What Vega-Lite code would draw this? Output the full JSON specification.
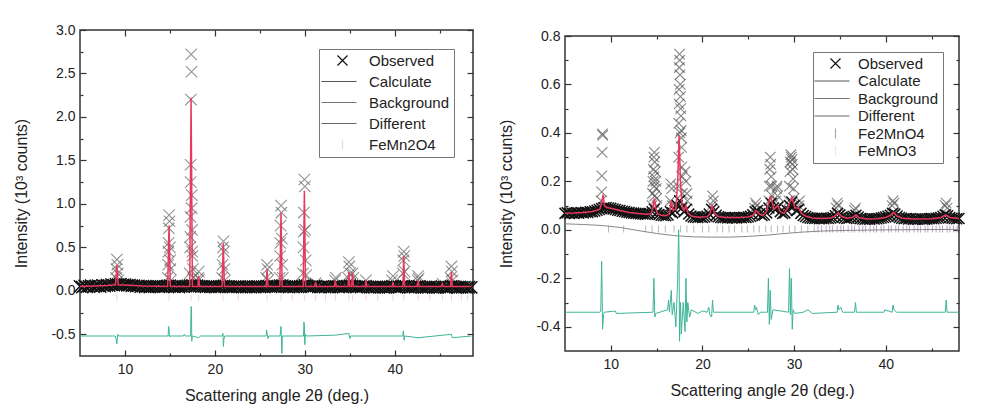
{
"$schema": "https://vega.github.io/schema/vega-lite/v6.json",
"background": "white",
"padding": {"left": 13, "top": 22, "right": 30, "bottom": 4},
"spacing": 16,
"config": {
  "font": "Liberation Sans",
  "view": {"stroke": "#333", "strokeWidth": 1.5},
  "axis": {"labelFont": "Liberation Sans", "titleFont": "Liberation Sans", "labelFontSize": 14, "titleFontSize": 16, "titleFontWeight": "normal", "labelColor": "#222", "titleColor": "#222", "tickColor": "#333", "tickWidth": 1.2, "domain": false, "grid": false, "labelOverlap": false},
  "legend": {"labelFont": "Liberation Sans"}
},
"resolve": {"scale": {"color": "independent", "shape": "independent"}},
"datasets": {
  "obsL": [
{"x":5,"y":0.05},{"x":5.25,"y":0.042},{"x":5.5,"y":0.056},{"x":5.75,"y":0.046},{"x":6,"y":0.052},{"x":6.25,"y":0.06},{"x":6.5,"y":0.047},{"x":6.75,"y":0.053},{"x":7,"y":0.058},{"x":7.25,"y":0.049},{"x":7.5,"y":0.062},{"x":7.75,"y":0.055},{"x":8,"y":0.064},{"x":8.25,"y":0.06},{"x":8.5,"y":0.07},{"x":8.75,"y":0.066},{"x":9,"y":0.074},{"x":9.25,"y":0.07},{"x":9.5,"y":0.076},{"x":9.75,"y":0.068},{"x":10,"y":0.071},{"x":10.25,"y":0.064},{"x":10.5,"y":0.066},{"x":10.75,"y":0.058},{"x":11,"y":0.06},{"x":11.25,"y":0.053},{"x":11.5,"y":0.057},{"x":11.75,"y":0.049},{"x":12,"y":0.054},{"x":12.25,"y":0.046},{"x":12.5,"y":0.052},{"x":12.75,"y":0.044},{"x":13,"y":0.05},{"x":13.25,"y":0.047},{"x":13.5,"y":0.053},{"x":13.75,"y":0.045},{"x":14,"y":0.051},{"x":14.25,"y":0.046},{"x":14.5,"y":0.052},{"x":14.75,"y":0.055},{"x":15,"y":0.058},{"x":15.25,"y":0.05},{"x":15.5,"y":0.046},{"x":15.75,"y":0.052},{"x":16,"y":0.044},{"x":16.25,"y":0.05},{"x":16.5,"y":0.047},{"x":16.75,"y":0.053},{"x":17,"y":0.056},{"x":17.25,"y":0.06},{"x":17.5,"y":0.062},{"x":17.75,"y":0.055},{"x":18,"y":0.058},{"x":18.25,"y":0.054},{"x":18.5,"y":0.048},{"x":18.75,"y":0.052},{"x":19,"y":0.045},{"x":19.25,"y":0.05},{"x":19.5,"y":0.046},{"x":19.75,"y":0.051},{"x":20,"y":0.044},{"x":20.25,"y":0.049},{"x":20.5,"y":0.046},{"x":20.75,"y":0.052},{"x":21,"y":0.056},{"x":21.25,"y":0.05},{"x":21.5,"y":0.045},{"x":21.75,"y":0.049},{"x":22,"y":0.043},{"x":22.25,"y":0.048},{"x":22.5,"y":0.045},{"x":22.75,"y":0.05},{"x":23,"y":0.042},{"x":23.25,"y":0.047},{"x":23.5,"y":0.044},{"x":23.75,"y":0.049},{"x":24,"y":0.043},{"x":24.25,"y":0.048},{"x":24.5,"y":0.044},{"x":24.75,"y":0.05},{"x":25,"y":0.045},{"x":25.25,"y":0.049},{"x":25.5,"y":0.046},{"x":25.75,"y":0.054},{"x":26,"y":0.05},{"x":26.25,"y":0.046},{"x":26.5,"y":0.05},{"x":26.75,"y":0.047},{"x":27,"y":0.052},{"x":27.25,"y":0.058},{"x":27.5,"y":0.06},{"x":27.75,"y":0.052},{"x":28,"y":0.047},{"x":28.25,"y":0.043},{"x":28.5,"y":0.048},{"x":28.75,"y":0.044},{"x":29,"y":0.049},{"x":29.25,"y":0.045},{"x":29.5,"y":0.05},{"x":29.75,"y":0.056},{"x":30,"y":0.062},{"x":30.25,"y":0.055},{"x":30.5,"y":0.049},{"x":30.75,"y":0.045},{"x":31,"y":0.05},{"x":31.25,"y":0.055},{"x":31.5,"y":0.046},{"x":31.75,"y":0.042},{"x":32,"y":0.047},{"x":32.25,"y":0.043},{"x":32.5,"y":0.048},{"x":32.75,"y":0.042},{"x":33,"y":0.046},{"x":33.25,"y":0.052},{"x":33.5,"y":0.05},{"x":33.75,"y":0.044},{"x":34,"y":0.048},{"x":34.25,"y":0.042},{"x":34.5,"y":0.047},{"x":34.75,"y":0.053},{"x":35,"y":0.058},{"x":35.25,"y":0.055},{"x":35.5,"y":0.05},{"x":35.75,"y":0.044},{"x":36,"y":0.048},{"x":36.25,"y":0.043},{"x":36.5,"y":0.047},{"x":36.75,"y":0.053},{"x":37,"y":0.046},{"x":37.25,"y":0.041},{"x":37.5,"y":0.046},{"x":37.75,"y":0.04},{"x":38,"y":0.045},{"x":38.25,"y":0.041},{"x":38.5,"y":0.046},{"x":38.75,"y":0.04},{"x":39,"y":0.044},{"x":39.25,"y":0.041},{"x":39.5,"y":0.046},{"x":39.75,"y":0.05},{"x":40,"y":0.045},{"x":40.25,"y":0.041},{"x":40.5,"y":0.046},{"x":40.75,"y":0.05},{"x":41,"y":0.056},{"x":41.25,"y":0.05},{"x":41.5,"y":0.044},{"x":41.75,"y":0.04},{"x":42,"y":0.045},{"x":42.25,"y":0.041},{"x":42.5,"y":0.048},{"x":42.75,"y":0.05},{"x":43,"y":0.043},{"x":43.25,"y":0.039},{"x":43.5,"y":0.044},{"x":43.75,"y":0.04},{"x":44,"y":0.045},{"x":44.25,"y":0.04},{"x":44.5,"y":0.044},{"x":44.75,"y":0.039},{"x":45,"y":0.043},{"x":45.25,"y":0.048},{"x":45.5,"y":0.042},{"x":45.75,"y":0.038},{"x":46,"y":0.043},{"x":46.25,"y":0.05},{"x":46.5,"y":0.052},{"x":46.75,"y":0.044},{"x":47,"y":0.04},{"x":47.25,"y":0.044},{"x":47.5,"y":0.039},{"x":47.75,"y":0.043},{"x":48,"y":0.038},{"x":48.25,"y":0.042},{"x":48.5,"y":0.04}
  ],
  "obsLp": [
{"x":9.0,"y":0.15},{"x":9.05,"y":0.25},{"x":9.1,"y":0.36},{"x":9.15,"y":0.3},{"x":9.2,"y":0.2},{"x":9.25,"y":0.12},
{"x":14.75,"y":0.15},{"x":14.8,"y":0.3},{"x":14.83,"y":0.45},{"x":14.85,"y":0.55},{"x":14.88,"y":0.72},{"x":14.9,"y":0.87},{"x":14.95,"y":0.8},{"x":15.0,"y":0.5},{"x":15.02,"y":0.35},{"x":15.05,"y":0.25},{"x":15.1,"y":0.12},
{"x":17.2,"y":0.2},{"x":17.25,"y":0.5},{"x":17.27,"y":0.62},{"x":17.28,"y":0.85},{"x":17.3,"y":1.45},{"x":17.31,"y":1.25},{"x":17.33,"y":2.2},{"x":17.36,"y":2.72},{"x":17.4,"y":2.52},{"x":17.42,"y":0.95},{"x":17.43,"y":1.1},{"x":17.46,"y":0.7},{"x":17.48,"y":0.45},{"x":17.5,"y":0.4},{"x":17.55,"y":0.25},{"x":17.6,"y":0.15},
{"x":18.15,"y":0.15},{"x":18.2,"y":0.22},{"x":18.25,"y":0.13},
{"x":20.8,"y":0.15},{"x":20.85,"y":0.3},{"x":20.9,"y":0.5},{"x":20.95,"y":0.57},{"x":21.0,"y":0.45},{"x":21.05,"y":0.25},{"x":21.1,"y":0.12},
{"x":25.7,"y":0.15},{"x":25.8,"y":0.3},{"x":25.85,"y":0.25},{"x":25.9,"y":0.12},
{"x":27.2,"y":0.15},{"x":27.25,"y":0.4},{"x":27.28,"y":0.55},{"x":27.3,"y":0.75},{"x":27.35,"y":0.98},{"x":27.4,"y":0.9},{"x":27.45,"y":0.6},{"x":27.5,"y":0.3},{"x":27.55,"y":0.15},
{"x":29.8,"y":0.2},{"x":29.85,"y":0.5},{"x":29.88,"y":0.68},{"x":29.9,"y":0.9},{"x":29.95,"y":1.28},{"x":30.0,"y":1.2},{"x":30.05,"y":0.7},{"x":30.1,"y":0.35},{"x":30.15,"y":0.18},
{"x":31.2,"y":0.09},{"x":33.35,"y":0.12},{"x":33.45,"y":0.15},
{"x":34.8,"y":0.15},{"x":34.9,"y":0.33},{"x":34.95,"y":0.28},{"x":35.05,"y":0.2},{"x":35.3,"y":0.2},{"x":35.4,"y":0.15},
{"x":36.8,"y":0.12},{"x":39.7,"y":0.12},{"x":39.8,"y":0.17},
{"x":40.9,"y":0.2},{"x":40.95,"y":0.35},{"x":41.0,"y":0.45},{"x":41.05,"y":0.4},{"x":41.1,"y":0.22},
{"x":42.55,"y":0.12},{"x":42.6,"y":0.17},{"x":42.65,"y":0.14},
{"x":45.3,"y":0.08},{"x":46.2,"y":0.15},{"x":46.3,"y":0.28},{"x":46.35,"y":0.22},{"x":46.4,"y":0.12}
  ],
  "calcL": [
{"x":5,"y":0.05},{"x":8,"y":0.06},{"x":8.95,"y":0.07},{"x":9.1,"y":0.3},{"x":9.25,"y":0.07},{"x":10.5,"y":0.065},{"x":12,"y":0.055},{"x":14.75,"y":0.05},{"x":14.9,"y":0.75},{"x":15.05,"y":0.05},{"x":17.2,"y":0.05},{"x":17.35,"y":2.22},{"x":17.5,"y":0.05},{"x":18.1,"y":0.05},{"x":18.2,"y":0.17},{"x":18.3,"y":0.05},{"x":20.8,"y":0.05},{"x":20.93,"y":0.55},{"x":21.06,"y":0.05},{"x":25.7,"y":0.05},{"x":25.8,"y":0.25},{"x":25.9,"y":0.05},{"x":27.22,"y":0.05},{"x":27.35,"y":0.9},{"x":27.48,"y":0.05},{"x":29.82,"y":0.05},{"x":29.95,"y":1.15},{"x":30.08,"y":0.05},{"x":31.1,"y":0.05},{"x":31.2,"y":0.1},{"x":31.3,"y":0.05},{"x":33.3,"y":0.05},{"x":33.4,"y":0.12},{"x":33.5,"y":0.05},{"x":34.8,"y":0.05},{"x":34.9,"y":0.22},{"x":35.0,"y":0.05},{"x":35.2,"y":0.05},{"x":35.3,"y":0.2},{"x":35.4,"y":0.05},{"x":36.7,"y":0.05},{"x":36.8,"y":0.12},{"x":36.9,"y":0.05},{"x":39.7,"y":0.05},{"x":39.8,"y":0.1},{"x":39.9,"y":0.05},{"x":40.9,"y":0.05},{"x":41.0,"y":0.4},{"x":41.1,"y":0.05},{"x":42.5,"y":0.05},{"x":42.6,"y":0.13},{"x":42.7,"y":0.05},{"x":45.2,"y":0.05},{"x":45.3,"y":0.08},{"x":45.4,"y":0.05},{"x":46.2,"y":0.05},{"x":46.3,"y":0.22},{"x":46.4,"y":0.05},{"x":48.5,"y":0.05}
  ],
  "bgL": [
{"x":5,"y":0.04},{"x":10,"y":0.045},{"x":20,"y":0.035},{"x":30,"y":0.03},{"x":40,"y":0.035},{"x":48.5,"y":0.04}
  ],
  "diffL": [
{"x":5,"y":-0.52},{"x":8.9,"y":-0.52},{"x":9.0,"y":-0.55},{"x":9.1,"y":-0.61},{"x":9.2,"y":-0.5},{"x":9.3,"y":-0.52},{"x":14.8,"y":-0.52},{"x":14.85,"y":-0.41},{"x":14.9,"y":-0.44},{"x":14.95,"y":-0.53},{"x":15.0,"y":-0.52},{"x":16.5,"y":-0.52},{"x":16.6,"y":-0.5},{"x":16.7,"y":-0.52},{"x":17.3,"y":-0.52},{"x":17.33,"y":-0.3},{"x":17.36,"y":-0.18},{"x":17.4,"y":-0.25},{"x":17.43,"y":-0.58},{"x":17.48,"y":-0.52},{"x":18.2,"y":-0.54},{"x":18.4,"y":-0.52},{"x":20.8,"y":-0.52},{"x":20.9,"y":-0.49},{"x":20.95,"y":-0.64},{"x":21.0,"y":-0.56},{"x":21.1,"y":-0.52},{"x":25.7,"y":-0.52},{"x":25.75,"y":-0.45},{"x":25.8,"y":-0.49},{"x":25.9,"y":-0.55},{"x":26.0,"y":-0.52},{"x":27.25,"y":-0.52},{"x":27.3,"y":-0.46},{"x":27.35,"y":-0.41},{"x":27.4,"y":-0.55},{"x":27.45,"y":-0.72},{"x":27.5,"y":-0.52},{"x":29.85,"y":-0.52},{"x":29.9,"y":-0.36},{"x":29.95,"y":-0.4},{"x":30.0,"y":-0.62},{"x":30.05,"y":-0.5},{"x":30.15,"y":-0.52},{"x":33.4,"y":-0.51},{"x":34.9,"y":-0.49},{"x":35.0,"y":-0.55},{"x":35.1,"y":-0.52},{"x":40.9,"y":-0.52},{"x":40.95,"y":-0.46},{"x":41.05,"y":-0.57},{"x":41.1,"y":-0.52},{"x":42.6,"y":-0.54},{"x":46.3,"y":-0.5},{"x":46.4,"y":-0.54},{"x":48.5,"y":-0.52}
  ],
  "braggL": [
{"x":9.1,"y":-0.08},{"x":14.9,"y":-0.08},{"x":17.35,"y":-0.08},{"x":18.2,"y":-0.08},{"x":20.9,"y":-0.08},{"x":22.6,"y":-0.08},{"x":25.8,"y":-0.08},{"x":27.35,"y":-0.08},{"x":28.6,"y":-0.08},{"x":29.95,"y":-0.08},{"x":31.2,"y":-0.08},{"x":32.3,"y":-0.08},{"x":33.4,"y":-0.08},{"x":34.9,"y":-0.08},{"x":35.3,"y":-0.08},{"x":36.8,"y":-0.08},{"x":38.1,"y":-0.08},{"x":39.8,"y":-0.08},{"x":41.0,"y":-0.08},{"x":42.6,"y":-0.08},{"x":43.9,"y":-0.08},{"x":45.3,"y":-0.08},{"x":46.3,"y":-0.08},{"x":47.4,"y":-0.08},{"x":48.1,"y":-0.08}
  ],
  "obsR": [
{"x":5,"y":0.068},{"x":5.25,"y":0.071},{"x":5.5,"y":0.067},{"x":5.75,"y":0.07},{"x":6,"y":0.068},{"x":6.25,"y":0.071},{"x":6.5,"y":0.069},{"x":6.75,"y":0.072},{"x":7,"y":0.07},{"x":7.25,"y":0.073},{"x":7.5,"y":0.072},{"x":7.75,"y":0.075},{"x":8,"y":0.075},{"x":8.25,"y":0.078},{"x":8.5,"y":0.081},{"x":8.75,"y":0.084},{"x":9,"y":0.088},{"x":9.25,"y":0.091},{"x":9.5,"y":0.092},{"x":9.75,"y":0.09},{"x":10,"y":0.089},{"x":10.25,"y":0.086},{"x":10.5,"y":0.084},{"x":10.75,"y":0.081},{"x":11,"y":0.08},{"x":11.25,"y":0.077},{"x":11.5,"y":0.076},{"x":11.75,"y":0.073},{"x":12,"y":0.072},{"x":12.25,"y":0.07},{"x":12.5,"y":0.069},{"x":12.75,"y":0.068},{"x":13,"y":0.067},{"x":13.25,"y":0.066},{"x":13.5,"y":0.065},{"x":13.75,"y":0.064},{"x":14,"y":0.064},{"x":14.25,"y":0.067},{"x":14.5,"y":0.075},{"x":14.75,"y":0.085},{"x":15,"y":0.07},{"x":15.25,"y":0.063},{"x":15.5,"y":0.06},{"x":15.75,"y":0.059},{"x":16,"y":0.058},{"x":16.25,"y":0.061},{"x":16.5,"y":0.075},{"x":16.75,"y":0.07},{"x":17,"y":0.08},{"x":17.25,"y":0.1},{"x":17.5,"y":0.12},{"x":17.75,"y":0.09},{"x":18,"y":0.075},{"x":18.25,"y":0.085},{"x":18.5,"y":0.065},{"x":18.75,"y":0.057},{"x":19,"y":0.053},{"x":19.25,"y":0.052},{"x":19.5,"y":0.051},{"x":19.75,"y":0.053},{"x":20,"y":0.051},{"x":20.25,"y":0.053},{"x":20.5,"y":0.056},{"x":20.75,"y":0.065},{"x":21,"y":0.085},{"x":21.25,"y":0.075},{"x":21.5,"y":0.06},{"x":21.75,"y":0.054},{"x":22,"y":0.051},{"x":22.25,"y":0.05},{"x":22.5,"y":0.051},{"x":22.75,"y":0.049},{"x":23,"y":0.051},{"x":23.25,"y":0.049},{"x":23.5,"y":0.05},{"x":23.75,"y":0.049},{"x":24,"y":0.051},{"x":24.25,"y":0.05},{"x":24.5,"y":0.052},{"x":24.75,"y":0.051},{"x":25,"y":0.053},{"x":25.25,"y":0.056},{"x":25.5,"y":0.062},{"x":25.75,"y":0.075},{"x":26,"y":0.08},{"x":26.25,"y":0.066},{"x":26.5,"y":0.059},{"x":26.75,"y":0.061},{"x":27,"y":0.07},{"x":27.25,"y":0.09},{"x":27.5,"y":0.11},{"x":27.75,"y":0.09},{"x":28,"y":0.085},{"x":28.25,"y":0.095},{"x":28.5,"y":0.075},{"x":28.75,"y":0.067},{"x":29,"y":0.07},{"x":29.25,"y":0.08},{"x":29.5,"y":0.1},{"x":29.75,"y":0.115},{"x":30,"y":0.1},{"x":30.25,"y":0.08},{"x":30.5,"y":0.085},{"x":30.75,"y":0.068},{"x":31,"y":0.059},{"x":31.25,"y":0.055},{"x":31.5,"y":0.051},{"x":31.75,"y":0.049},{"x":32,"y":0.048},{"x":32.25,"y":0.047},{"x":32.5,"y":0.048},{"x":32.75,"y":0.046},{"x":33,"y":0.047},{"x":33.25,"y":0.046},{"x":33.5,"y":0.048},{"x":33.75,"y":0.047},{"x":34,"y":0.049},{"x":34.25,"y":0.051},{"x":34.5,"y":0.058},{"x":34.75,"y":0.068},{"x":35,"y":0.062},{"x":35.25,"y":0.053},{"x":35.5,"y":0.049},{"x":35.75,"y":0.047},{"x":36,"y":0.048},{"x":36.25,"y":0.051},{"x":36.5,"y":0.055},{"x":36.75,"y":0.06},{"x":37,"y":0.053},{"x":37.25,"y":0.047},{"x":37.5,"y":0.045},{"x":37.75,"y":0.044},{"x":38,"y":0.045},{"x":38.25,"y":0.044},{"x":38.5,"y":0.046},{"x":38.75,"y":0.045},{"x":39,"y":0.046},{"x":39.25,"y":0.047},{"x":39.5,"y":0.049},{"x":39.75,"y":0.051},{"x":40,"y":0.053},{"x":40.25,"y":0.056},{"x":40.5,"y":0.06},{"x":40.75,"y":0.068},{"x":41,"y":0.065},{"x":41.25,"y":0.057},{"x":41.5,"y":0.051},{"x":41.75,"y":0.048},{"x":42,"y":0.046},{"x":42.25,"y":0.047},{"x":42.5,"y":0.045},{"x":42.75,"y":0.046},{"x":43,"y":0.044},{"x":43.25,"y":0.045},{"x":43.5,"y":0.044},{"x":43.75,"y":0.046},{"x":44,"y":0.045},{"x":44.25,"y":0.044},{"x":44.5,"y":0.045},{"x":44.75,"y":0.046},{"x":45,"y":0.047},{"x":45.25,"y":0.046},{"x":45.5,"y":0.048},{"x":45.75,"y":0.049},{"x":46,"y":0.051},{"x":46.25,"y":0.056},{"x":46.5,"y":0.062},{"x":46.75,"y":0.058},{"x":47,"y":0.051},{"x":47.25,"y":0.048},{"x":47.5,"y":0.047},{"x":47.75,"y":0.046},{"x":48,"y":0.047}
  ],
  "obsRp": [
{"x":8.95,"y":0.12},{"x":9.0,"y":0.157},{"x":9.02,"y":0.223},{"x":9.05,"y":0.32},{"x":9.08,"y":0.396},{"x":9.12,"y":0.39},
{"x":14.5,"y":0.1},{"x":14.55,"y":0.15},{"x":14.6,"y":0.2},{"x":14.65,"y":0.25},{"x":14.7,"y":0.3},{"x":14.75,"y":0.32},{"x":14.8,"y":0.28},{"x":14.85,"y":0.24},{"x":14.9,"y":0.2},{"x":14.95,"y":0.17},{"x":15.0,"y":0.13},{"x":15.05,"y":0.1},{"x":14.7,"y":0.22},{"x":14.75,"y":0.18},{"x":14.8,"y":0.14},
{"x":16.5,"y":0.12},{"x":16.55,"y":0.19},{"x":16.65,"y":0.17},{"x":16.7,"y":0.1},
{"x":17.35,"y":0.18},{"x":17.4,"y":0.3},{"x":17.42,"y":0.44},{"x":17.45,"y":0.58},{"x":17.48,"y":0.67},{"x":17.5,"y":0.725},{"x":17.52,"y":0.7},{"x":17.55,"y":0.64},{"x":17.58,"y":0.6},{"x":17.6,"y":0.55},{"x":17.62,"y":0.5},{"x":17.65,"y":0.47},{"x":17.68,"y":0.41},{"x":17.7,"y":0.38},{"x":17.72,"y":0.34},{"x":17.75,"y":0.26},{"x":17.78,"y":0.22},{"x":17.8,"y":0.15},{"x":17.45,"y":0.52},{"x":17.55,"y":0.4},
{"x":18.1,"y":0.24},{"x":18.2,"y":0.2},{"x":18.3,"y":0.15},{"x":18.35,"y":0.12},
{"x":21.0,"y":0.1},{"x":21.1,"y":0.14},{"x":21.2,"y":0.12},
{"x":25.7,"y":0.09},{"x":25.8,"y":0.11},{"x":25.9,"y":0.1},
{"x":27.25,"y":0.12},{"x":27.3,"y":0.18},{"x":27.35,"y":0.25},{"x":27.4,"y":0.3},{"x":27.45,"y":0.27},{"x":27.5,"y":0.22},{"x":27.55,"y":0.18},{"x":27.6,"y":0.14},
{"x":28.0,"y":0.12},{"x":28.1,"y":0.17},{"x":28.15,"y":0.18},{"x":28.2,"y":0.14},
{"x":29.45,"y":0.12},{"x":29.5,"y":0.18},{"x":29.55,"y":0.24},{"x":29.6,"y":0.28},{"x":29.65,"y":0.31},{"x":29.7,"y":0.3},{"x":29.75,"y":0.29},{"x":29.8,"y":0.27},{"x":29.85,"y":0.25},{"x":29.9,"y":0.21},{"x":29.95,"y":0.17},{"x":30.0,"y":0.13},{"x":30.1,"y":0.1},
{"x":30.5,"y":0.1},{"x":30.6,"y":0.12},
{"x":34.6,"y":0.09},{"x":34.7,"y":0.11},{"x":34.8,"y":0.1},
{"x":36.6,"y":0.08},{"x":36.7,"y":0.09},
{"x":40.7,"y":0.1},{"x":40.8,"y":0.12},{"x":40.9,"y":0.11},
{"x":46.5,"y":0.1},{"x":46.6,"y":0.11},{"x":46.7,"y":0.09}
  ],
  "calcR": [
{"x":5,"y":0.069},{"x":6,"y":0.07},{"x":7,"y":0.072},{"x":8,"y":0.076},{"x":8.8,"y":0.085},{"x":9.0,"y":0.11},{"x":9.15,"y":0.145},{"x":9.3,"y":0.1},{"x":9.6,"y":0.092},{"x":10,"y":0.089},{"x":11,"y":0.08},{"x":12,"y":0.072},{"x":13,"y":0.067},{"x":14,"y":0.064},{"x":14.4,"y":0.067},{"x":14.6,"y":0.09},{"x":14.75,"y":0.13},{"x":14.9,"y":0.09},{"x":15.1,"y":0.067},{"x":15.5,"y":0.06},{"x":16,"y":0.058},{"x":16.4,"y":0.066},{"x":16.6,"y":0.12},{"x":16.8,"y":0.08},{"x":17.1,"y":0.085},{"x":17.3,"y":0.2},{"x":17.45,"y":0.39},{"x":17.6,"y":0.2},{"x":17.8,"y":0.09},{"x":18.0,"y":0.08},{"x":18.2,"y":0.1},{"x":18.4,"y":0.07},{"x":18.8,"y":0.057},{"x":19.5,"y":0.052},{"x":20.5,"y":0.054},{"x":20.8,"y":0.065},{"x":21.05,"y":0.1},{"x":21.3,"y":0.07},{"x":21.7,"y":0.056},{"x":22.5,"y":0.051},{"x":24,"y":0.051},{"x":25,"y":0.053},{"x":25.5,"y":0.06},{"x":25.85,"y":0.08},{"x":26.2,"y":0.066},{"x":26.6,"y":0.059},{"x":27.0,"y":0.075},{"x":27.4,"y":0.14},{"x":27.8,"y":0.085},{"x":28.2,"y":0.1},{"x":28.5,"y":0.075},{"x":28.9,"y":0.068},{"x":29.3,"y":0.09},{"x":29.75,"y":0.135},{"x":30.1,"y":0.09},{"x":30.5,"y":0.09},{"x":30.8,"y":0.068},{"x":31.3,"y":0.056},{"x":32,"y":0.049},{"x":33,"y":0.047},{"x":34,"y":0.049},{"x":34.4,"y":0.055},{"x":34.8,"y":0.07},{"x":35.2,"y":0.055},{"x":35.8,"y":0.048},{"x":36.4,"y":0.052},{"x":36.75,"y":0.062},{"x":37.1,"y":0.05},{"x":38,"y":0.045},{"x":39,"y":0.046},{"x":40,"y":0.051},{"x":40.5,"y":0.06},{"x":40.85,"y":0.072},{"x":41.2,"y":0.058},{"x":41.8,"y":0.048},{"x":43,"y":0.045},{"x":45,"y":0.046},{"x":46,"y":0.05},{"x":46.55,"y":0.062},{"x":47,"y":0.051},{"x":48,"y":0.047}
  ],
  "bgR": [
{"x":5,"y":0.025},{"x":7,"y":0.022},{"x":9,"y":0.018},{"x":11,"y":0.01},{"x":13,"y":-0.003},{"x":15,"y":-0.015},{"x":17,"y":-0.024},{"x":19,"y":-0.029},{"x":21,"y":-0.03},{"x":23,"y":-0.03},{"x":25,"y":-0.027},{"x":27,"y":-0.022},{"x":29,"y":-0.015},{"x":31,"y":-0.009},{"x":33,"y":-0.005},{"x":36,"y":-0.002},{"x":40,"y":0.0},{"x":44,"y":0.001},{"x":48,"y":0.002}
  ],
  "diffR": [
{"x":5,"y":-0.34},{"x":8.8,"y":-0.34},{"x":8.9,"y":-0.335},{"x":9.0,"y":-0.13},{"x":9.05,"y":-0.25},{"x":9.1,"y":-0.41},{"x":9.2,"y":-0.35},{"x":9.3,"y":-0.34},{"x":10.5,"y":-0.335},{"x":10.6,"y":-0.345},{"x":14.6,"y":-0.34},{"x":14.7,"y":-0.2},{"x":14.75,"y":-0.28},{"x":14.8,"y":-0.36},{"x":14.9,"y":-0.345},{"x":16.2,"y":-0.33},{"x":16.3,"y":-0.29},{"x":16.4,"y":-0.34},{"x":16.6,"y":-0.25},{"x":16.7,"y":-0.35},{"x":16.9,"y":-0.3},{"x":17.1,"y":-0.4},{"x":17.3,"y":-0.2},{"x":17.4,"y":0.0},{"x":17.45,"y":-0.1},{"x":17.5,"y":-0.46},{"x":17.6,"y":-0.3},{"x":17.7,"y":-0.43},{"x":17.9,"y":-0.3},{"x":18.1,"y":-0.42},{"x":18.2,"y":-0.2},{"x":18.3,"y":-0.38},{"x":18.4,"y":-0.3},{"x":18.6,"y":-0.36},{"x":18.8,"y":-0.33},{"x":19.5,"y":-0.345},{"x":20.0,"y":-0.335},{"x":20.5,"y":-0.34},{"x":20.7,"y":-0.32},{"x":20.8,"y":-0.35},{"x":21.0,"y":-0.36},{"x":21.1,"y":-0.29},{"x":21.2,"y":-0.34},{"x":25.6,"y":-0.34},{"x":25.7,"y":-0.31},{"x":25.8,"y":-0.33},{"x":25.9,"y":-0.32},{"x":26.1,"y":-0.35},{"x":26.3,"y":-0.34},{"x":27.1,"y":-0.34},{"x":27.2,"y":-0.2},{"x":27.3,"y":-0.39},{"x":27.4,"y":-0.25},{"x":27.5,"y":-0.37},{"x":27.7,"y":-0.33},{"x":29.4,"y":-0.34},{"x":29.5,"y":-0.16},{"x":29.6,"y":-0.35},{"x":29.7,"y":-0.2},{"x":29.8,"y":-0.41},{"x":29.9,"y":-0.33},{"x":30.1,"y":-0.345},{"x":31.0,"y":-0.34},{"x":31.5,"y":-0.33},{"x":32,"y":-0.345},{"x":34.7,"y":-0.34},{"x":34.8,"y":-0.31},{"x":34.9,"y":-0.33},{"x":35.1,"y":-0.32},{"x":35.3,"y":-0.34},{"x":36.6,"y":-0.34},{"x":36.7,"y":-0.3},{"x":36.8,"y":-0.34},{"x":39.8,"y":-0.34},{"x":39.9,"y":-0.33},{"x":40.7,"y":-0.34},{"x":40.8,"y":-0.31},{"x":40.9,"y":-0.33},{"x":41.2,"y":-0.34},{"x":46.5,"y":-0.34},{"x":46.6,"y":-0.29},{"x":46.7,"y":-0.34},{"x":48,"y":-0.34}
  ],
  "braggR1": [
{"x":9.75,"y":0.004},{"x":11.4,"y":0.004},{"x":13.8,"y":0.004},{"x":14.5,"y":0.004},{"x":15.2,"y":0.004},{"x":15.95,"y":0.004},{"x":16.9,"y":0.004},{"x":17.6,"y":0.004},{"x":18.3,"y":0.004},{"x":19.05,"y":0.004},{"x":20.0,"y":0.004},{"x":20.7,"y":0.004},{"x":21.6,"y":0.004},{"x":22.2,"y":0.004},{"x":22.9,"y":0.004},{"x":23.5,"y":0.004},{"x":24.3,"y":0.004},{"x":24.9,"y":0.004},{"x":25.6,"y":0.004},{"x":26.2,"y":0.004},{"x":26.9,"y":0.004},{"x":27.5,"y":0.004},{"x":28.2,"y":0.004},{"x":28.8,"y":0.004},{"x":29.5,"y":0.004},{"x":30.1,"y":0.004},{"x":30.8,"y":0.004},{"x":31.5,"y":0.004},{"x":32.2,"y":0.004}
  ],
  "braggR2": [
{"x":32.6,"y":0.004},{"x":33.0,"y":0.004},{"x":33.5,"y":0.004},{"x":33.9,"y":0.004},{"x":34.2,"y":0.004},{"x":34.7,"y":0.004},{"x":35.1,"y":0.004},{"x":35.4,"y":0.004},{"x":35.9,"y":0.004},{"x":36.3,"y":0.004},{"x":36.6,"y":0.004},{"x":37.1,"y":0.004},{"x":37.5,"y":0.004},{"x":37.8,"y":0.004},{"x":38.3,"y":0.004},{"x":38.7,"y":0.004},{"x":39.0,"y":0.004},{"x":39.5,"y":0.004},{"x":39.8,"y":0.004},{"x":40.3,"y":0.004},{"x":40.6,"y":0.004},{"x":41.1,"y":0.004},{"x":41.4,"y":0.004},{"x":41.9,"y":0.004},{"x":42.3,"y":0.004},{"x":42.6,"y":0.004},{"x":43.1,"y":0.004},{"x":43.5,"y":0.004},{"x":43.8,"y":0.004},{"x":44.3,"y":0.004},{"x":44.6,"y":0.004},{"x":45.1,"y":0.004},{"x":45.5,"y":0.004},{"x":45.9,"y":0.004},{"x":46.2,"y":0.004},{"x":46.7,"y":0.004},{"x":47.0,"y":0.004},{"x":47.4,"y":0.004},{"x":47.8,"y":0.004}
  ],
  "spacer": [{"x":0}]
},
"hconcat": [
{
  "width": 393, "height": 326,
  "resolve": {"axis": {"x": "independent", "y": "independent"}},
  "layer": [
    {"data": {"name": "braggL"}, "mark": {"type": "tick", "orient": "vertical", "size": 6, "thickness": 1, "color": "#f2b8c8", "opacity": 0.7},
     "encoding": {"x": {"field": "x", "type": "quantitative", "scale": {"domain": [5, 48.7], "nice": false, "zero": false}, "axis": null},
                  "y": {"field": "y", "type": "quantitative", "scale": {"domain": [-0.75, 3.0], "nice": false, "zero": false}, "axis": null}}},
    {"data": {"name": "bgL"}, "mark": {"type": "line", "color": "#888", "strokeWidth": 1},
     "encoding": {"x": {"field": "x", "type": "quantitative", "scale": {"domain": [5, 48.7], "nice": false, "zero": false},
                        "axis": {"orient": "top", "title": null, "labels": false, "values": [10,15,20,25,30,35,40,45], "tickSize": {"condition": {"test": "datum.value % 10 === 0", "value": -6}, "value": -3}}},
                  "y": {"field": "y", "type": "quantitative", "scale": {"domain": [-0.75, 3.0], "nice": false, "zero": false},
                        "axis": {"orient": "right", "title": null, "labels": false, "values": [-0.5,-0.25,0,0.25,0.5,0.75,1,1.25,1.5,1.75,2,2.25,2.5,2.75,3], "tickSize": {"condition": {"test": "abs(round(datum.value*4)) % 2 === 0", "value": -6}, "value": -3}}}}},
    {"data": {"name": "diffL"}, "mark": {"type": "line", "color": "#3db598", "strokeWidth": 1},
     "encoding": {"x": {"field": "x", "type": "quantitative", "scale": {"domain": [5, 48.7], "nice": false, "zero": false}, "axis": null},
                  "y": {"field": "y", "type": "quantitative", "scale": {"domain": [-0.75, 3.0], "nice": false, "zero": false}, "axis": null}}},
    {"data": {"name": "obsLp"}, "mark": {"type": "point", "shape": "M-1,-1L1,1M1,-1L-1,1", "filled": false, "size": 130, "strokeWidth": 1.1, "color": "#666"},
     "encoding": {"x": {"field": "x", "type": "quantitative", "scale": {"domain": [5, 48.7], "nice": false, "zero": false}, "axis": null},
                  "y": {"field": "y", "type": "quantitative", "scale": {"domain": [-0.75, 3.0], "nice": false, "zero": false}, "axis": null}}},
    {"data": {"name": "obsL"}, "mark": {"type": "point", "filled": false, "size": 150, "strokeWidth": 1.5, "opacity": 1},
     "encoding": {"x": {"field": "x", "type": "quantitative", "scale": {"domain": [5, 48.7], "nice": false, "zero": false}, "axis": null},
                  "y": {"field": "y", "type": "quantitative", "scale": {"domain": [-0.75, 3.0], "nice": false, "zero": false}, "axis": null},
                  "color": {"datum": "Observed", "scale": {"domain": ["Observed","Calculate","Background","Different","FeMn2O4"], "range": ["#111","#555","#777","#666","#e0e0e0"]},
                            "legend": {"orient": "top-right", "offset": 19, "title": null, "padding": 4, "strokeColor": "#777", "fillColor": "white", "labelFontSize": 15, "labelColor": "#222", "labelOffset": 19, "rowPadding": 5, "symbolSize": 100, "symbolOffset": 12, "symbolStrokeWidth": 1.2}},
                  "shape": {"datum": "Observed", "scale": {"domain": ["Observed","Calculate","Background","Different","FeMn2O4"], "range": ["M-1,-1L1,1M1,-1L-1,1","M-4.2,0L2.8,0","M-4.2,0L2.8,0","M-4.2,0L2.8,0","M0,-1L0,1"]},
                            "legend": {"orient": "top-right", "offset": 19, "title": null, "padding": 4, "strokeColor": "#777", "fillColor": "white", "labelFontSize": 15, "labelColor": "#222", "labelOffset": 19, "rowPadding": 5, "symbolSize": 100, "symbolOffset": 12, "symbolStrokeWidth": 1.2}}}},
    {"data": {"name": "calcL"}, "mark": {"type": "line", "color": "#e8385e", "strokeWidth": 1.5},
     "encoding": {"x": {"field": "x", "type": "quantitative", "scale": {"domain": [5, 48.7], "nice": false, "zero": false},
                        "axis": {"orient": "bottom", "title": "Scattering angle 2θ (deg.)", "values": [10,15,20,25,30,35,40,45], "labelExpr": "datum.value % 10 === 0 ? datum.label : ''", "tickSize": {"condition": {"test": "datum.value % 10 === 0", "value": -6}, "value": -3}, "labelPadding": 12, "titlePadding": 8}},
                  "y": {"field": "y", "type": "quantitative", "scale": {"domain": [-0.75, 3.0], "nice": false, "zero": false},
                        "axis": {"orient": "left", "title": "Intensity (10³ counts)", "values": [-0.5,-0.25,0,0.25,0.5,0.75,1,1.25,1.5,1.75,2,2.25,2.5,2.75,3], "labelExpr": "abs(round(datum.value*4)) % 2 === 0 ? (datum.value < 0 ? '-' : '') + format(abs(datum.value), '.1f') : ''", "tickSize": {"condition": {"test": "abs(round(datum.value*4)) % 2 === 0", "value": -6}, "value": -3}, "labelPadding": 11, "titlePadding": 21}}}}
  ]
},
{
 "spacing": -3,
 "resolve": {"scale": {"color": "independent", "shape": "independent"}},
 "vconcat": [
 {"width": 394, "height": 1, "view": {"stroke": null}, "data": {"name": "spacer"}, "mark": {"type": "point", "opacity": 0, "size": 0}},
 {
  "width": 394, "height": 315,
  "resolve": {"axis": {"x": "independent", "y": "independent"}},
  "layer": [
    {"data": {"name": "braggR1"}, "mark": {"type": "tick", "orient": "vertical", "size": 7, "thickness": 1, "color": "#9a9a9a"},
     "encoding": {"x": {"field": "x", "type": "quantitative", "scale": {"domain": [5, 48], "nice": false, "zero": false}, "axis": null},
                  "y": {"field": "y", "type": "quantitative", "scale": {"domain": [-0.5, 0.8], "nice": false, "zero": false}, "axis": null}}},
    {"data": {"name": "braggR2"}, "mark": {"type": "tick", "orient": "vertical", "size": 7, "thickness": 1, "color": "#a48cc0", "opacity": 0.8},
     "encoding": {"x": {"field": "x", "type": "quantitative", "scale": {"domain": [5, 48], "nice": false, "zero": false}, "axis": null},
                  "y": {"field": "y", "type": "quantitative", "scale": {"domain": [-0.5, 0.8], "nice": false, "zero": false}, "axis": null}}},
    {"data": {"name": "bgR"}, "mark": {"type": "line", "color": "#888", "strokeWidth": 1},
     "encoding": {"x": {"field": "x", "type": "quantitative", "scale": {"domain": [5, 48], "nice": false, "zero": false},
                        "axis": {"orient": "top", "title": null, "labels": false, "values": [10,15,20,25,30,35,40,45], "tickSize": {"condition": {"test": "datum.value % 10 === 0", "value": -6}, "value": -3}}},
                  "y": {"field": "y", "type": "quantitative", "scale": {"domain": [-0.5, 0.8], "nice": false, "zero": false},
                        "axis": {"orient": "right", "title": null, "labels": false, "values": [-0.4,-0.3,-0.2,-0.1,0,0.1,0.2,0.3,0.4,0.5,0.6,0.7,0.8], "tickSize": {"condition": {"test": "abs(round(datum.value*10)) % 2 === 0", "value": -6}, "value": -3}}}}},
    {"data": {"name": "diffR"}, "mark": {"type": "line", "color": "#3db598", "strokeWidth": 1},
     "encoding": {"x": {"field": "x", "type": "quantitative", "scale": {"domain": [5, 48], "nice": false, "zero": false}, "axis": null},
                  "y": {"field": "y", "type": "quantitative", "scale": {"domain": [-0.5, 0.8], "nice": false, "zero": false}, "axis": null}}},
    {"data": {"name": "obsRp"}, "mark": {"type": "point", "shape": "M-1,-1L1,1M1,-1L-1,1", "filled": false, "size": 110, "strokeWidth": 1.1, "color": "#555"},
     "encoding": {"x": {"field": "x", "type": "quantitative", "scale": {"domain": [5, 48], "nice": false, "zero": false}, "axis": null},
                  "y": {"field": "y", "type": "quantitative", "scale": {"domain": [-0.5, 0.8], "nice": false, "zero": false}, "axis": null}}},
    {"data": {"name": "obsR"}, "mark": {"type": "point", "filled": false, "size": 120, "strokeWidth": 1.5, "opacity": 1},
     "encoding": {"x": {"field": "x", "type": "quantitative", "scale": {"domain": [5, 48], "nice": false, "zero": false}, "axis": null},
                  "y": {"field": "y", "type": "quantitative", "scale": {"domain": [-0.5, 0.8], "nice": false, "zero": false}, "axis": null},
                  "color": {"datum": "Observed", "scale": {"domain": ["Observed","Calculate","Background","Different","Fe2MnO4","FeMnO3"], "range": ["#111","#555","#777","#666","#aaa","#ece6f0"]},
                            "legend": {"orient": "top-right", "offset": 16, "title": null, "padding": 4, "strokeColor": "#777", "fillColor": "white", "labelFontSize": 15, "labelColor": "#222", "labelOffset": 15, "rowPadding": 1.5, "symbolSize": 100, "symbolOffset": 11, "symbolStrokeWidth": 1.2}},
                  "shape": {"datum": "Observed", "scale": {"domain": ["Observed","Calculate","Background","Different","Fe2MnO4","FeMnO3"], "range": ["M-1,-1L1,1M1,-1L-1,1","M-4.2,0L2.8,0","M-4.2,0L2.8,0","M-4.2,0L2.8,0","M0,-1L0,1","M0,-1L0,1"]},
                            "legend": {"orient": "top-right", "offset": 16, "title": null, "padding": 4, "strokeColor": "#777", "fillColor": "white", "labelFontSize": 15, "labelColor": "#222", "labelOffset": 15, "rowPadding": 1.5, "symbolSize": 100, "symbolOffset": 11, "symbolStrokeWidth": 1.2}}}},
    {"data": {"name": "calcR"}, "mark": {"type": "line", "color": "#e8385e", "strokeWidth": 1.5},
     "encoding": {"x": {"field": "x", "type": "quantitative", "scale": {"domain": [5, 48], "nice": false, "zero": false},
                        "axis": {"orient": "bottom", "title": "Scattering angle 2θ (deg.)", "values": [10,15,20,25,30,35,40,45], "labelExpr": "datum.value % 10 === 0 ? datum.label : ''", "tickSize": {"condition": {"test": "datum.value % 10 === 0", "value": -6}, "value": -3}, "labelPadding": 12, "titlePadding": 8}},
                  "y": {"field": "y", "type": "quantitative", "scale": {"domain": [-0.5, 0.8], "nice": false, "zero": false},
                        "axis": {"orient": "left", "title": "Intensity (10³ ccunts)", "values": [-0.4,-0.3,-0.2,-0.1,0,0.1,0.2,0.3,0.4,0.5,0.6,0.7,0.8], "labelExpr": "abs(round(datum.value*10)) % 2 === 0 ? (datum.value < 0 ? '-' : '') + format(abs(datum.value), '.1f') : ''", "tickSize": {"condition": {"test": "abs(round(datum.value*10)) % 2 === 0", "value": -6}, "value": -3}, "labelPadding": 11, "titlePadding": 21}}}}
  ]
 }
 ]
}
]
}
